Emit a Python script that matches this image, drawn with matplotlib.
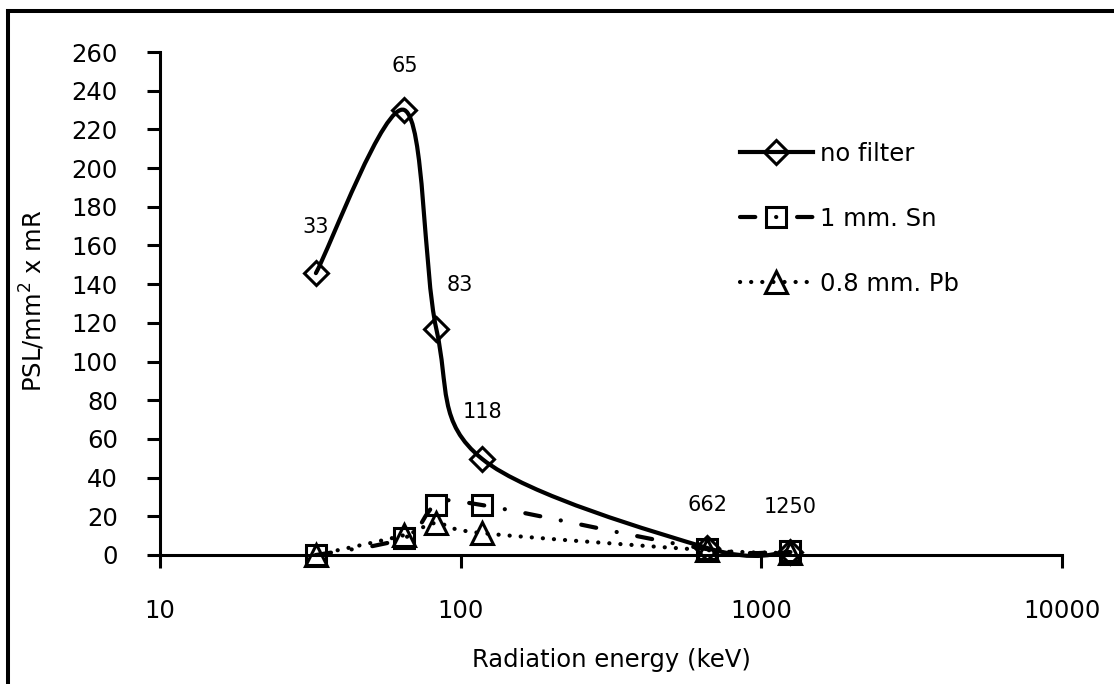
import matplotlib
matplotlib.use("Agg")
import matplotlib.pyplot as plt
import numpy as np
from matplotlib.path import Path
from matplotlib.patches import PathPatch
from matplotlib.lines import Line2D

plt.rcParams['font.family'] = ['DejaVu Sans']
plt.rcParams['font.size'] = 17.5
plt.rcParams['lines.scale_dashes'] = False

# data
energy = [33, 65, 83, 118, 662, 1250]
no_filter = [145.7, 230.0, 116.8, 49.6, 3.6, 1.5]
sn_1mm = [0.0, 8.8, 25.8, 25.8, 3.0, 2.0]
pb_08mm = [0.0, 10.3, 16.5, 11.3, 2.5, 1.0]
series_names = ['no filter', '1 mm. Sn', '0.8 mm. Pb']
yticks = list(range(0, 261, 20))
xticks = [10, 100, 1000, 10000]

W, H = 1114, 684
fig = plt.figure(figsize=(W / 100, H / 100), dpi=100)
ax = fig.add_axes([160 / W, 1 - 555 / H, 902 / W, 503 / H])
ax.set_xscale('log')
ax.set_xlim(10, 10000)
ax.set_ylim(0, 260)


def smooth_path(x, y):
    # excel-like smoothed line: cubic bezier through the points, built in pixel space
    pts = ax.transData.transform(np.column_stack([x, y]))
    n = len(pts)
    verts = [pts[0]]
    codes = [Path.MOVETO]
    for i in range(n - 1):
        p0 = pts[i - 1] if i > 0 else pts[i]
        p1, p2 = pts[i], pts[i + 1]
        p3 = pts[i + 2] if i + 2 < n else pts[i + 1]
        verts += [p1 + (p2 - p0) / 6, p2 - (p3 - p1) / 6, p2]
        codes += [Path.CURVE4] * 3
    verts = ax.transData.inverted().transform(np.array(verts))
    return Path(verts, codes)


styles = [
    dict(ls='-', marker='D', ms=12),
    dict(ls=(0, (11, 15, 0.1, 15)), marker='s', ms=15),
    dict(ls=(0, (0.1, 7.9)), marker='^', ms=16),
]
handles = []
for vals, st, name in zip([no_filter, sn_1mm, pb_08mm], styles, series_names):
    patch = PathPatch(smooth_path(energy, vals), fill=False, ec='black', lw=3,
                      ls=st['ls'], capstyle='round', joinstyle='round', clip_on=False)
    ax.add_patch(patch)
    ax.plot(energy, vals, ls='none', marker=st['marker'], ms=st['ms'], mfc='none',
            mec='black', mew=2.2, clip_on=False, zorder=3)
    h = Line2D([], [], color='black', lw=3, ls=st['ls'], marker=st['marker'], ms=st['ms'],
               mfc='none', mec='black', mew=2.2, dash_capstyle='round')
    handles.append(h)

# energy labels over the no filter points
label_offsets = [(0, 46), (0, 44), (23, 44), (0, 47), (0, 43), (0, 45)]
for e, v, off in zip(energy, no_filter, label_offsets):
    ax.annotate(str(e), (e, v), xytext=off, textcoords='offset pixels',
                ha='center', va='center', fontsize=15)

for s in ['top', 'right']:
    ax.spines[s].set_visible(False)
for s in ['left', 'bottom']:
    ax.spines[s].set_linewidth(2.2)
ax.set_xticks(xticks)
ax.set_xticklabels([str(t) for t in xticks])
ax.minorticks_off()
ax.set_yticks(yticks)
ax.tick_params(length=9.4, width=2.2, direction='out')
ax.tick_params(axis='y', pad=21)
ax.tick_params(axis='x', pad=22)

ax.set_xlabel('Radiation energy (keV)')
ax.xaxis.set_label_coords(0.5, -0.185)
ax.set_ylabel('PSL/mm$^2$ x mR')
ax.yaxis.set_label_coords(-0.125, 0.505)

ax.legend(handles, series_names, loc='upper left', bbox_to_anchor=(740 / W, 1 - 142 / H),
          bbox_transform=fig.transFigure, frameon=False, numpoints=1, handlelength=3.0,
          handletextpad=0.3, labelspacing=1.68, borderpad=0, borderaxespad=0)

# chart border (only top and left edges are inside the picture)
fig.add_artist(Line2D([8 / W, 8 / W], [0, 1 - 11 / H], transform=fig.transFigure,
                      color='black', lw=2.9))
fig.add_artist(Line2D([8 / W, 1], [1 - 11 / H, 1 - 11 / H], transform=fig.transFigure,
                      color='black', lw=2.9))

fig.savefig('out.png', dpi=100)
